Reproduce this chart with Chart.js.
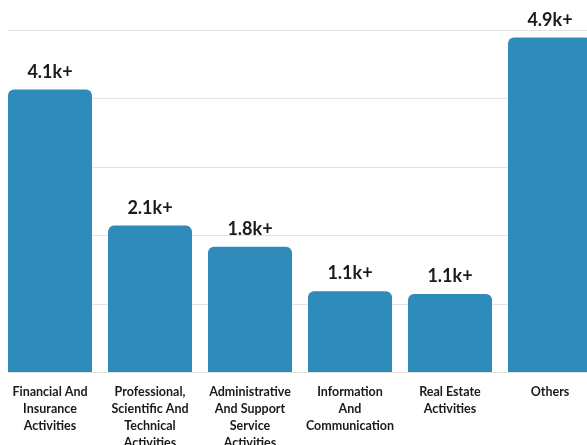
<!DOCTYPE html>
<html>
<head>
<meta charset="utf-8">
<script src="https://cdn.jsdelivr.net/npm/chart.js@4.4.0/dist/chart.umd.min.js"></script>
<style>
  html, body { margin: 0; padding: 0; background: #fff; overflow: hidden; }
  #wrap { width: 600px; height: 445px; }
</style>
</head>
<body>
<div id="wrap"><canvas id="myChart" width="600" height="445"></canvas></div>
<script>
// categories (multi-line tick labels)
const categories = [
  ["Financial And", "Insurance", "Activities"],
  ["Professional,", "Scientific And", "Technical", "Activities"],
  ["Administrative", "And Support", "Service", "Activities"],
  ["Information", "And", "Communication"],
  ["Real Estate", "Activities"],
  ["Others"]
];
// counts
const counts = [4130, 2140, 1830, 1180, 1140, 4890];
const valueLabels = ["4.1k+", "2.1k+", "1.8k+", "1.1k+", "1.1k+", "4.9k+"];
const gridValues = [0, 1000, 2000, 3000, 4000, 5000];

const barBlue = "#2e8bba";

// light grid lines, starting a bit in from the left edge
const gridPlugin = {
  id: "gridPlugin",
  beforeDatasetsDraw(chart) {
    const ctx = chart.ctx;
    const y = chart.scales.y;
    ctx.save();
    ctx.strokeStyle = "#e3e3e3";
    ctx.lineWidth = 1;
    gridValues.forEach(function(v) {
      const py = Math.round(y.getPixelForValue(v)) + 0.5;
      ctx.beginPath();
      ctx.moveTo(8, py);
      ctx.lineTo(chart.width, py);
      ctx.stroke();
    });
    ctx.restore();
  }
};

// value labels above bars
const labelPlugin = {
  id: "labelPlugin",
  afterDatasetsDraw(chart) {
    const ctx = chart.ctx;
    const meta = chart.getDatasetMeta(0);
    ctx.save();
    ctx.font = "bold 18px Lato";
    ctx.fillStyle = "#1a1a1a";
    ctx.textAlign = "center";
    ctx.textBaseline = "alphabetic";
    meta.data.forEach(function(bar, i) {
      ctx.fillText(valueLabels[i], bar.x, bar.y - 12);
    });
    ctx.restore();
  }
};

const ctx = document.getElementById("myChart").getContext("2d");
const myChart = new Chart(ctx, {
  type: "bar",
  data: {
    labels: categories,
    datasets: [{
      data: counts,
      backgroundColor: barBlue,
      borderRadius: { topLeft: 6, topRight: 6, bottomLeft: 0, bottomRight: 0 },
      borderSkipped: false,
      categoryPercentage: 1,
      barPercentage: 0.84
    }]
  },
  options: {
    responsive: false,
    animation: false,
    layout: { padding: { top: 30, left: 0, right: 0, bottom: 0 } },
    plugins: {
      legend: { display: false },
      tooltip: { enabled: false }
    },
    scales: {
      x: {
        grid: { display: false },
        border: { display: false },
        ticks: {
          color: "#1a1a1a",
          font: { family: "Lato", size: 12.5, weight: "bold", lineHeight: 1.36 },
          padding: 3,
          maxRotation: 0,
          autoSkip: false
        },
        afterFit: function(scale) { scale.height = 73; }
      },
      y: {
        min: 0,
        max: 5000,
        grid: { display: false },
        border: { display: false },
        ticks: { display: false, stepSize: 1000 },
        afterFit: function(scale) { scale.width = 0; }
      }
    }
  },
  plugins: [gridPlugin, labelPlugin]
});
</script>
</body>
</html>
